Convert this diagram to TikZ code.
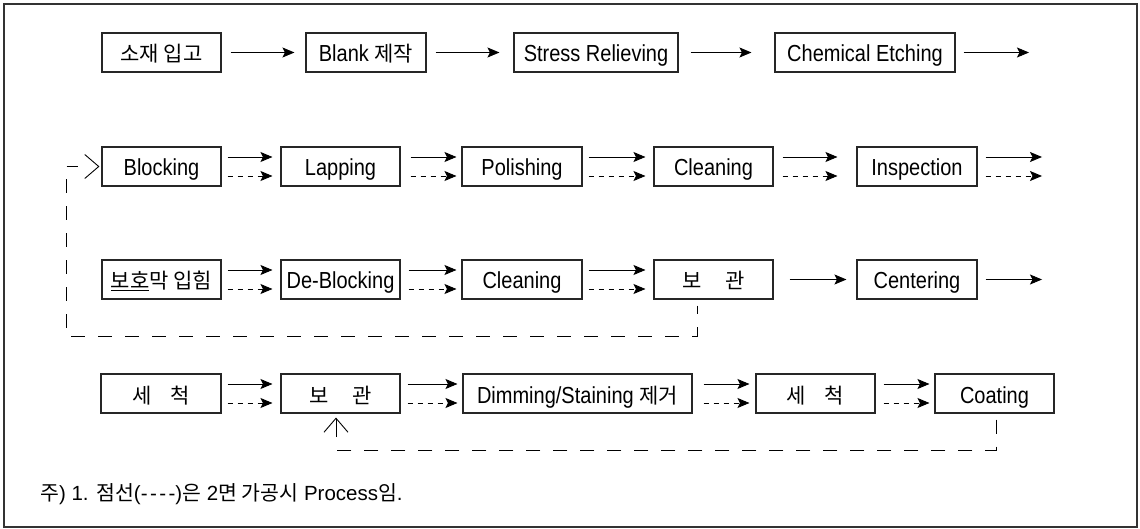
\documentclass[tikz,border=0pt]{standalone}
\usepackage{fontspec}
\setmainfont{Liberation Sans}
\newfontfamily\kr{Noto Sans CJK KR}
\usetikzlibrary{arrows.meta}

% Latin text is set a little taller than the face's own proportions
\newcommand\tx[1]{\scalebox{1}[1.16]{#1}}
% Hangul text
\newcommand\hg[1]{{\kr\fontsize{21}{24}\selectfont #1}}

% a solid arrow above, a dashed arrow below, between two boxes
\newcommand\twoarrows[4]{%
  \draw[sol, shorten <=#3, shorten >=#4] ([yshift=9.5pt]#1.east) -- ([yshift=9.5pt]#2.west);
  \draw[dsh, shorten <=#3, shorten >=#4] ([yshift=-9.5pt]#1.east) -- ([yshift=-9.5pt]#2.west);}

\begin{document}
\begin{tikzpicture}[x=1pt,y=-1pt,
  box/.style={draw=black!85, line width=1.1pt, minimum height=39pt, inner sep=0pt,
              text height=19pt, text depth=0pt, font=\fontsize{20}{24}\selectfont},
  sol/.style={line width=0.9pt, -{Stealth[length=12pt,width=10pt,inset=2.5pt]}},
  dsh/.style={sol, dash pattern=on 5.5pt off 4.5pt},
  ret/.style={line width=0.9pt, dash pattern=on 14pt off 13pt},
  barb/.style={line width=0.9pt, -{Straight Barb[length=14pt,width=24pt,line width=0.9pt]}}
]
\useasboundingbox (0,0) rectangle (1140,529);
\draw[line width=1.2pt, black!80] (4,4) rectangle (1137,527);

% ---- row 1
\node[box, minimum width=119pt] (a1) at (161.5,52.5) {\hg{소재 입고}};
\node[box, minimum width=120pt] (a2) at (366,52.5) {\tx{Blank} \hg{제작}};
\node[box, minimum width=164pt] (a3) at (596,52.5) {\tx{Stress Relieving}};
\node[box, minimum width=180pt] (a4) at (865,52.5) {\tx{Chemical Etching}};
\coordinate (a5) at (1029,52.5);
\draw[sol, shorten <=9pt, shorten >=11pt] (a1.east) -- (a2.west);
\draw[sol, shorten <=9pt, shorten >=14pt] (a2.east) -- (a3.west);
\draw[sol, shorten <=12pt, shorten >=23pt] (a3.east) -- (a4.west);
\draw[sol, shorten <=8pt] (a4.east) -- (a5);

% ---- row 2
\node[box, minimum width=119pt] (b1) at (161.5,166.5) {\tx{Blocking}};
\node[box, minimum width=119pt] (b2) at (340.5,166.5) {\tx{Lapping}};
\node[box, minimum width=120pt] (b3) at (522,166.5) {\tx{Polishing}};
\node[box, minimum width=119pt] (b4) at (713.5,166.5) {\tx{Cleaning}};
\node[box, minimum width=120pt] (b5) at (917,166.5) {\tx{Inspection}};
\coordinate (b6) at (1042,166.5);
\twoarrows{b1}{b2}{6pt}{8pt}
\twoarrows{b2}{b3}{10pt}{5pt}
\twoarrows{b3}{b4}{6pt}{8pt}
\twoarrows{b4}{b5}{9pt}{19pt}
\draw[sol, shorten <=8pt] ([yshift=9.5pt]b5.east) -- ([yshift=9.5pt]b6);
\draw[dsh, shorten <=8pt] ([yshift=-9.5pt]b5.east) -- ([yshift=-9.5pt]b6);

% ---- row 3
\node[box, minimum width=119pt] (c1) at (161.5,279.5) {\hg{\underline{보호}막 입힘}};
\node[box, minimum width=119pt] (c2) at (340.5,279.5) {\tx{De-Blocking}};
\node[box, minimum width=120pt] (c3) at (522,279.5) {\tx{Cleaning}};
\node[box, minimum width=119pt] (c4) at (713.5,279.5) {\hg{보\hspace{1.1em}관}};
\node[box, minimum width=120pt] (c5) at (917,279.5) {\tx{Centering}};
\coordinate (c6) at (1042,279.5);
\twoarrows{c1}{c2}{6pt}{8pt}
\twoarrows{c2}{c3}{8pt}{5pt}
\twoarrows{c3}{c4}{6pt}{8pt}
\draw[sol, shorten <=16pt, shorten >=10pt] (c4.east) -- (c5.west);
\draw[sol, shorten <=8pt] (c5.east) -- (c6);

% return path of the second face: storage back to blocking
\coordinate (l1) at (66,336);
\draw[ret, dash phase=5.5pt, shorten <=6pt] ([xshift=-16.5pt]c4.south) |- (l1) |- ([xshift=-23pt]b1.west);
\draw[barb, shorten >=2pt] ([xshift=-3pt]b1.west) -- (b1.west);

% ---- row 4
\node[box, minimum width=120pt] (e1) at (161,393.5) {\hg{세\hspace{0.9em}척}};
\node[box, minimum width=119pt] (e2) at (340.5,393.5) {\hg{보\hspace{1.1em}관}};
\node[box, minimum width=229pt] (e3) at (577.5,393.5) {\tx{Dimming/Staining} \hg{제거}};
\node[box, minimum width=119pt] (e4) at (815.5,393.5) {\hg{세\hspace{0.9em}척}};
\node[box, minimum width=119pt] (e5) at (994.5,393.5) {\tx{Coating}};
\twoarrows{e1}{e2}{6pt}{8pt}
\twoarrows{e2}{e3}{7pt}{5pt}
\twoarrows{e3}{e4}{11pt}{6pt}
\twoarrows{e4}{e5}{8pt}{5pt}

% return path of the second face: coating back to storage
\coordinate (l2) at (336,450);
\coordinate (l3) at (336,437);
\draw[ret, shorten <=6pt] ([xshift=1.5pt]e5.south) |- (l2);
\draw[barb, shorten >=4pt] (l3) -- ([xshift=-4.5pt]e2.south);

% ---- note
\node[anchor=west, inner sep=0pt, font=\fontsize{20.5}{24}\selectfont] (note) at (40,494)
  {{\kr 주}) 1. {\kr 점선}(-\hspace{0.12em}-\hspace{0.12em}-\hspace{0.12em}-){\kr 은} 2{\kr 면 가공시} Process{\kr 임}.};
\end{tikzpicture}
\end{document}
